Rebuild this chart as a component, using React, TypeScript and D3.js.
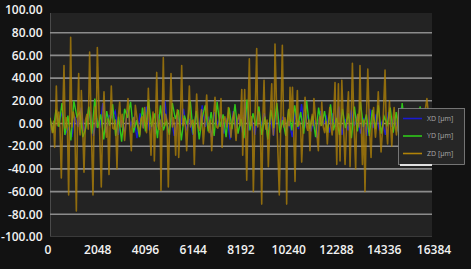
import React from "react";
import * as d3 from "d3";

const xTicks = [0, 2048, 4096, 6144, 8192, 10240, 12288, 14336, 16384];
const yTicks = [100, 80, 60, 40, 20, 0, -20, -40, -60, -80, -100];

const xdValues = [3, -6, 8, 2, 10, -9, -4, -12, 6, -3, 14, -7, 2, 9, -11, 5, -4, 18, -8, 7, 5, 11, -10, 3, -7, 12, -2, 6, -13, 9, -4, 15, -6, 1, -9, 8, -3, 20, -8, 5, -11, 7, -2, 13, -6, 4, -10, 9, -5, 16, -3, 6, -12, 10, -1, 8, -9, 5, -14, 11, -4, 7, -8, 19, -6, 3, -10, 12, -2, 9, -7, 5, -11, 14, -3, 6, -9, 2, -12, 10, -5, 17, -4, 8, -7, 3, -13, 11, -1, 6, -8, 9, -3, 15, -10, 4, -6, 12, -2, 7, -9, 5, -11, 13, -4, 8, -5, 2, -10, 10, -3, 6, -7, 14, -2, 9, -8, 4, -12, 7, -1, 11, -6, 5];

const ydValues = [5, -8, 12, -3, 18, -10, 7, -15, 20, 6, 10, -12, -4, 15, -9, 22, -4, 8, -14, 11, -2, 17, -11, 6, -16, 13, 5, 19, -8, 3, -12, 14, -7, 21, -3, 9, -13, 16, -6, 2, -10, 18, 4, 12, -15, 7, -1, 20, -9, 11, -14, 5, 16, -7, 10, -11, 19, -3, 8, -12, 14, -5, 17, -9, 4, -13, 21, -6, 9, -2, 15, -10, 6, -14, 12, -4, 18, -8, 3, -11, 13, -6, 16, -3, 10, -9, 20, -5, 7, -12, 14, -2, 11, -8, 17, -6, 5, -10, 13, -4, 9, -13, 15, -7, 19, -3, 8, -11, 12, -5, 16, -9, 6, -1, 14, -8, 10, -12, 18, -4, 7, -10, 11, -6, 15, -3, 9, -7, 12];

const zdPoints: [number, number][] = [
  [0, 5], [60, -3], [100, -8], [150, 2], [200, -21], [240, 3], [272, 33], [320, -2], [380, 10], [430, -4],
  [486, -48], [540, 3], [600, 51], [650, -4], [700, 5], [750, -6], [800, -63], [845, 4], [886, 76], [940, -3],
  [1000, 10], [1060, 4], [1130, -77], [1180, 2], [1230, 44], [1260, -3], [1290, -10], [1320, 4], [1344, 29], [1400, -2],
  [1458, -43], [1520, 3], [1580, 8], [1640, -5], [1700, 63], [1770, -4], [1844, -63], [1890, 2], [1940, 15], [1985, -3],
  [2030, 67], [2110, 5], [2200, -56], [2260, 3], [2316, 28], [2370, -2], [2420, -12], [2470, 4], [2530, -45], [2580, 2],
  [2630, 33], [2690, -4], [2750, -5], [2810, 3], [2873, -40], [2930, 5], [2990, 19], [3050, -3], [3100, 8], [3150, -2],
  [3200, -15], [3270, 4], [3346, 22], [3420, -3], [3488, -24], [3530, 2], [3580, 5], [3620, -3], [3660, 16], [3750, 2],
  [3850, -10], [3900, 4], [3950, 6], [4000, -4], [4060, 14], [4100, 2], [4140, -8], [4180, 3], [4218, 31], [4280, -4],
  [4332, -28], [4380, 3], [4420, 10], [4450, -2], [4475, -33], [4530, 3], [4577, 45], [4630, -2], [4680, -5], [4720, 3],
  [4760, -59], [4810, 4], [4860, 58], [4910, -2], [4960, 8], [5020, 2], [5075, -56], [5130, 3], [5190, 44], [5250, -3],
  [5300, 5], [5340, -2], [5390, -28], [5430, 4], [5460, 12], [5490, -3], [5520, -30], [5590, 3], [5648, 51], [5700, -2],
  [5760, 4], [5810, -3], [5862, -24], [5920, 3], [5977, 33], [6030, -3], [6080, 2], [6140, 3], [6190, -36], [6240, 2],
  [6290, 26], [6360, -3], [6420, -6], [6460, 3], [6500, 12], [6540, -2], [6575, -18], [6650, 3], [6720, 25], [6780, -2],
  [6830, -8], [6880, 3], [6935, -24], [7000, 2], [7077, 23], [7140, -3], [7200, -4], [7270, 3], [7334, 22], [7355, 2],
  [7380, -21], [7440, 3], [7500, 6], [7580, -3], [7650, 14], [7700, 2], [7760, -12], [7820, 3], [7880, 10], [7930, -2],
  [7980, -15], [8040, 3], [8100, 8], [8160, -2], [8225, 30], [8245, 2], [8265, -28], [8310, 3], [8350, 30], [8390, -3],
  [8437, -50], [8490, 3], [8550, 57], [8600, -2], [8640, 6], [8680, -3], [8722, -60], [8790, 2], [8865, 66], [8910, -3],
  [8960, 10], [9020, -2], [9080, -71], [9130, 3], [9180, 38], [9220, 2], [9260, -5], [9310, 3], [9365, -38], [9440, 4],
  [9510, 35], [9545, 2], [9580, -10], [9615, 3], [9650, 70], [9740, -3], [9835, -63], [9900, 2], [9965, 69], [10020, -3],
  [10080, 5], [10115, -2], [10150, -71], [10190, 3], [10230, 12], [10260, -2], [10295, 32], [10350, 2], [10400, 32], [10450, -3],
  [10510, -51], [10560, 3], [10610, 29], [10650, -2], [10700, 2], [10750, -3], [10795, -34], [10870, 3], [10940, 23], [11000, -2],
  [11050, -6], [11100, 3], [11150, -24], [11200, 2], [11250, 8], [11285, -2], [11320, 22], [11420, -3], [11510, -24], [11545, 3],
  [11580, 6], [11620, -2], [11655, 19], [11720, -3], [11780, -8], [11840, 2], [11895, -18], [11950, 3], [12000, 14], [12050, -2],
  [12100, -10], [12160, 3], [12225, 36], [12260, -2], [12300, -36], [12335, 3], [12370, 35], [12405, -2], [12440, -33], [12480, 3],
  [12515, 38], [12590, -3], [12655, -36], [12730, 3], [12800, 28], [12835, -2], [12870, -38], [12920, 3], [12970, 53], [13040, -2],
  [13110, -40], [13150, 2], [13200, 8], [13250, -3], [13295, 51], [13350, -2], [13400, -36], [13455, 3], [13510, -60], [13570, 3],
  [13630, 48], [13700, -3], [13770, -30], [13820, 2], [13880, 14], [13920, -3], [13960, -12], [14020, 3], [14080, 28], [14140, -2],
  [14200, -25], [14290, 3], [14370, 47], [14420, -2], [14480, -18], [14520, 3], [14560, 20], [14610, -2], [14660, -20], [14710, 3],
  [14760, 14], [14810, -2], [14860, -10], [14910, 3], [14960, 12], [15030, -2], [15100, -8], [15200, 3], [15300, 10], [15400, -2],
  [15500, -12], [15600, 2], [15700, 8], [15800, -2], [15900, -10], [16030, 3], [16165, 22], [16280, -3], [16384, 5]
];

const seriesNames = ["XD [µm]", "YD [µm]", "ZD [µm]"];
const seriesColors = ["#1a1ad0", "#2fc81a", "#b08208"];

export default function App() {
  const W = 471, H = 269;
  const left = 50, right = 432, top = 13, bottom = 237;
  const x = d3.scaleLinear().domain([0, 16384]).range([left, right]);
  const y = d3.scaleLinear().domain([-100, 100]).range([237, 10]);
  const line = d3.line<[number, number]>().x(d => x(d[0])).y(d => y(d[1]));

  const uni = (vals: number[]) => vals.map((v, i) => [i * 16384 / (vals.length - 1), v] as [number, number]);
  const xd = uni(xdValues);
  const yd = uni(ydValues);

  const font = "'Open Sans', 'Noto Sans', sans-serif";

  return (
    <svg width={W} height={H} style={{ position: "fixed", left: 0, top: 0, background: "#121212" }}>
      <rect x={0} y={0} width={W} height={H} fill="#121212" />
      <rect x={left} y={top} width={right - left} height={bottom - top} fill="#232323" />
      <line x1={left + 0.5} x2={left + 0.5} y1={top} y2={bottom} stroke="#4a4a4a" strokeWidth={1} />
      <line x1={left} x2={right} y1={bottom - 0.5} y2={bottom - 0.5} stroke="#3a3a3a" strokeWidth={1} />
      {yTicks.filter(t => t !== 100 && t !== -100).map(t => (
        <line key={t} x1={left} x2={right} y1={y(t)} y2={y(t)} stroke="#8c8c8c" strokeWidth={1.6} />
      ))}
      <defs>
        <clipPath id="plotclip">
          <rect x={left} y={top} width={right - left} height={bottom - top} />
        </clipPath>
      </defs>
      <g clipPath="url(#plotclip)">
        <path d={line(xd) || ""} fill="none" stroke={seriesColors[0]} strokeWidth={1.4} />
        <path d={line(yd) || ""} fill="none" stroke={seriesColors[1]} strokeWidth={1.4} />
        <path d={line(zdPoints) || ""} fill="none" stroke={seriesColors[2]} strokeWidth={1.6} strokeOpacity={0.78} strokeLinejoin="round" />
      </g>
      {yTicks.map(t => (
        <text key={t} x={42.5} y={y(t)} dy="0.35em" textAnchor="end" fill="#f2f2f2" fontSize={12} fontWeight={600} fontFamily={font}>
          {t.toFixed(2)}
        </text>
      ))}
      {xTicks.map(t => (
        <text key={t} x={x(t) - (t === 0 ? 2 : 0) + (t === 16384 ? 2 : 0)} y={254} textAnchor="middle" fill="#f2f2f2" fontSize={12} fontWeight={600} fontFamily={font}>
          {t}
        </text>
      ))}
      <g>
        <rect x={398.5} y={108.5} width={66} height={56} fill="#262626" stroke="#8a8a8a" strokeWidth={0.8} />
        <line x1={400} x2={432} y1={165} y2={165} stroke="#e0e0e0" strokeWidth={2} />
        {seriesNames.map((n, i) => (
          <g key={n}>
            <line x1={403} x2={422} y1={118.5 + i * 17.5} y2={118.5 + i * 17.5} stroke={seriesColors[i]} strokeWidth={1.6} />
            <text x={427} y={118.5 + i * 17.5} dy="0.35em" fill="#a8a8a8" fontSize={7} fontFamily={font}>{n}</text>
          </g>
        ))}
      </g>
    </svg>
  );
}
